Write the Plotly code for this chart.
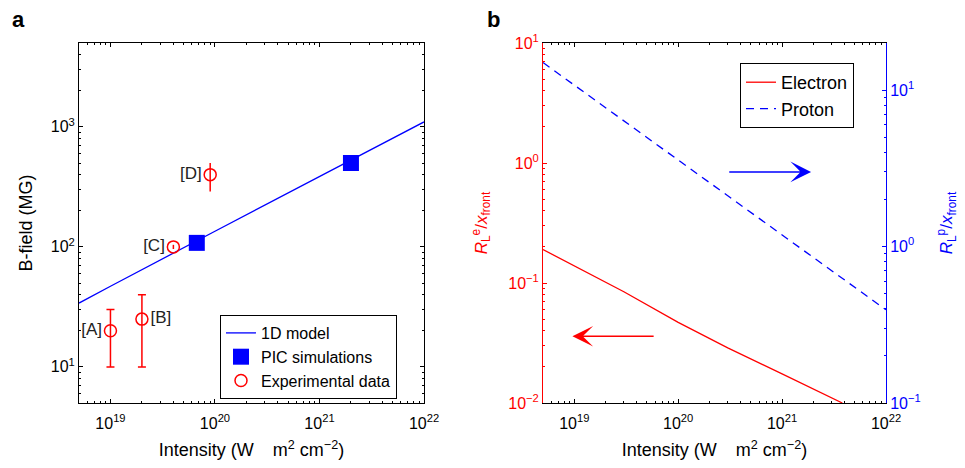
import numpy as np
import plotly.graph_objects as go

# ---------------- data ----------------
# Panel a
model_I = [5e18, 1e19, 1e20, 1e21, 1e22]
model_B = [34, 47, 135, 387, 1100]

pic_I = [6.7e19, 2.0e21]
pic_B = [108, 500]

expAB_I = [1e19, 2e19]
expAB_B = [20, 25]
expAB_up = [10, 15]
expAB_dn = [10, 15]
expAB_lbl = ["[A]", "[B]"]

expCD_I = [4e19, 9e19]
expCD_B = [100, 400]
expCD_up = [4, 100]
expCD_dn = [4, 110]
expCD_lbl = ["[C]", "[D]"]

# Panel b
elec_I = [5e18, 1e19, 3e19, 1e20, 3e20, 1e21, 3.8e21]
elec_R = [0.19, 0.139, 0.0845, 0.047, 0.0288, 0.0175, 0.01]

prot_I = [5e18, 1e22]
prot_R = [15.0, 0.394]

x_ticks = [1e19, 1e20, 1e21, 1e22]
x_ticktext = ["10<sup>19</sup>", "10<sup>20</sup>", "10<sup>21</sup>", "10<sup>22</sup>"]
ya_ticks = [10, 100, 1000]
ya_ticktext = ["10<sup>1</sup>", "10<sup>2</sup>", "10<sup>3</sup>"]
yl_ticks = [0.01, 0.1, 1, 10]
yl_ticktext = ["10<sup>\u22122</sup>", "10<sup>\u22121</sup>", "10<sup>0</sup>", "10<sup>1</sup>"]
yr_ticks = [0.1, 1, 10]
yr_ticktext = ["10<sup>\u22121</sup>", "10<sup>0</sup>", "10<sup>1</sup>"]

# arrows (data coords)
blue_arrow = dict(tail=(3e20, 3.0), head=(1.9e21, 3.0))
red_arrow = dict(tail=(6e19, 0.036), head=(9.6e18, 0.036))

# ---------------- figure ----------------
FONT = "Liberation Sans, Arial, sans-serif"
RED = "#ff0000"
BLUE = "#0000ff"
TICK = 16
TITLE = 18


def minor_vals(lo, hi):
    vals = []
    for e in range(lo, hi + 1):
        for m in range(2, 10):
            vals.append(m * 10.0 ** e)
    return vals


fig = go.Figure()

fig.add_trace(go.Scatter(x=model_I, y=model_B, mode="lines", name="1D model",
                         line=dict(color=BLUE, width=1.3), xaxis="x", yaxis="y",
                         legend="legend"))
fig.add_trace(go.Scatter(x=pic_I, y=pic_B, mode="markers", name="PIC simulations",
                         marker=dict(symbol="square", size=16, color=BLUE),
                         xaxis="x", yaxis="y", legend="legend"))
fig.add_trace(go.Scatter(x=expAB_I, y=expAB_B, mode="markers+text", name="Experimental data",
                         marker=dict(symbol="circle-open", size=12, color=RED,
                                     line=dict(width=1.5, color=RED)),
                         error_y=dict(type="data", symmetric=False, array=expAB_up,
                                      arrayminus=expAB_dn, color=RED, thickness=1.5, width=4),
                         text=expAB_lbl, textposition=["middle left", "middle right"],
                         textfont=dict(size=17, color="#222", family=FONT),
                         xaxis="x", yaxis="y", legend="legend"))
fig.add_trace(go.Scatter(x=expCD_I, y=expCD_B, mode="markers+text", name="Experimental data",
                         showlegend=False,
                         marker=dict(symbol="circle-open", size=12, color=RED,
                                     line=dict(width=1.5, color=RED)),
                         error_y=dict(type="data", symmetric=False, array=expCD_up,
                                      arrayminus=expCD_dn, color=RED, thickness=1.5, width=0),
                         text=expCD_lbl, textposition=["middle left", "middle left"],
                         textfont=dict(size=17, color="#222", family=FONT),
                         xaxis="x", yaxis="y"))

fig.add_trace(go.Scatter(x=elec_I, y=elec_R, mode="lines", name="Electron",
                         line=dict(color=RED, width=1.3), xaxis="x2", yaxis="y3",
                         legend="legend2"))
fig.add_trace(go.Scatter(x=prot_I, y=prot_R, mode="lines", name="Proton",
                         line=dict(color=BLUE, width=1.3, dash="8px,6px"),
                         xaxis="x2", yaxis="y4", legend="legend2"))

xr = [np.log10(5e18), 22]
common_x = dict(type="log", range=xr, showline=True, linecolor="black", linewidth=1,
                mirror="ticks", ticks="inside", ticklen=4, tickcolor="black",
                tickvals=x_ticks, ticktext=x_ticktext, showgrid=False, zeroline=False,
                automargin=False, ticklabelstandoff=6,
                tickfont=dict(size=TICK, color="black", family=FONT),
                minor=dict(tickvals=minor_vals(18, 21), ticks="inside", ticklen=2,
                           tickcolor="black", showgrid=False),
                title=dict(text="Intensity (W \u2002 m<sup>2</sup> cm<sup>\u22122</sup>)",
                           font=dict(size=TITLE, color="black", family=FONT), standoff=12))

ydom = [65 / 468, 425 / 468]

fig.update_layout(
    width=965, height=468,
    margin=dict(l=0, r=0, t=0, b=0, autoexpand=False),
    paper_bgcolor="white", plot_bgcolor="white",
    font=dict(family=FONT, size=TICK, color="black"),
    xaxis=dict(common_x, domain=[79 / 965, 424 / 965], anchor="y"),
    yaxis=dict(type="log", range=[np.log10(5), np.log10(5000)], domain=ydom, anchor="x",
               showline=True, linecolor="black", linewidth=1, mirror="ticks",
               ticks="inside", ticklen=4, tickcolor="black", showgrid=False, zeroline=False,
               automargin=False,
               tickvals=ya_ticks, ticktext=ya_ticktext,
               tickfont=dict(size=TICK, color="black", family=FONT),
               minor=dict(tickvals=minor_vals(0, 3), ticks="inside", ticklen=2,
                          tickcolor="black", showgrid=False),
               title=dict(text="B-field (MG)", font=dict(size=TITLE, color="black", family=FONT),
                          standoff=13)),
    xaxis2=dict(common_x, domain=[543 / 965, 886 / 965], anchor="y3"),
    yaxis3=dict(type="log", range=[-2, 1], domain=ydom, anchor="x2",
                showline=True, linecolor=RED, linewidth=1, mirror=False,
                ticks="inside", ticklen=4, tickcolor=RED, showgrid=False, zeroline=False,
                automargin=False,
                tickvals=yl_ticks, ticktext=yl_ticktext,
                tickfont=dict(size=TICK, color=RED, family=FONT),
                minor=dict(tickvals=minor_vals(-2, 0), ticks="inside", ticklen=2,
                           tickcolor=RED, showgrid=False),
                title=dict(text="<i>R</i><sub>L</sub><sup>e</sup>/<i>x</i><sub>front</sub>",
                           font=dict(size=17, color=RED, family=FONT), standoff=16)),
    yaxis4=dict(type="log", range=[-1, np.log10(20)], domain=ydom, anchor="x2",
                overlaying="y3", side="right",
                showline=True, linecolor=BLUE, linewidth=1, mirror=False,
                ticks="inside", ticklen=4, tickcolor=BLUE, showgrid=False, zeroline=False,
                automargin=False,
                tickvals=yr_ticks, ticktext=yr_ticktext,
                tickfont=dict(size=TICK, color=BLUE, family=FONT),
                minor=dict(tickvals=minor_vals(-1, 1), ticks="inside", ticklen=2,
                           tickcolor=BLUE, showgrid=False),
                title=dict(text="<i>R</i><sub>L</sub><sup>p</sup>/<i>x</i><sub>front</sub>",
                           font=dict(size=17, color=BLUE, family=FONT), standoff=20)),
    legend=dict(x=220 / 965, y=1 - 315 / 468, xanchor="left", yanchor="top",
                bordercolor="black", borderwidth=1, bgcolor="white",
                font=dict(size=16, family=FONT, color="black"),
                tracegroupgap=0, itemwidth=30),
    legend2=dict(x=740 / 965, y=1 - 63 / 468, xanchor="left", yanchor="top",
                 bordercolor="black", borderwidth=1, bgcolor="white",
                 font=dict(size=18, family=FONT, color="black"),
                 tracegroupgap=0, itemwidth=30),
    showlegend=True,
)

annotations = [
    dict(text="<b>a</b>", x=10 / 965, y=1 - 20 / 468, xref="paper", yref="paper",
         xanchor="left", yanchor="middle", showarrow=False,
         font=dict(size=22, family=FONT, color="black")),
    dict(text="<b>b</b>", x=485 / 965, y=1 - 20 / 468, xref="paper", yref="paper",
         xanchor="left", yanchor="middle", showarrow=False,
         font=dict(size=22, family=FONT, color="black")),
]
for arr, xr_, yr_, col in [(blue_arrow, "x2", "y4", BLUE), (red_arrow, "x2", "y3", RED)]:
    annotations.append(dict(
        text="", x=np.log10(arr["head"][0]), y=np.log10(arr["head"][1]),
        ax=np.log10(arr["tail"][0]), ay=np.log10(arr["tail"][1]),
        xref=xr_, yref=yr_, axref=xr_, ayref=yr_,
        showarrow=True, arrowhead=3, arrowsize=2.3, arrowwidth=1.5, arrowcolor=col,
        standoff=0, startstandoff=0))
fig.update_layout(annotations=annotations)

fig.write_html("out.html", config={"displayModeBar": False},
               post_script="document.body.style.margin='0';document.body.style.overflow='hidden';")
